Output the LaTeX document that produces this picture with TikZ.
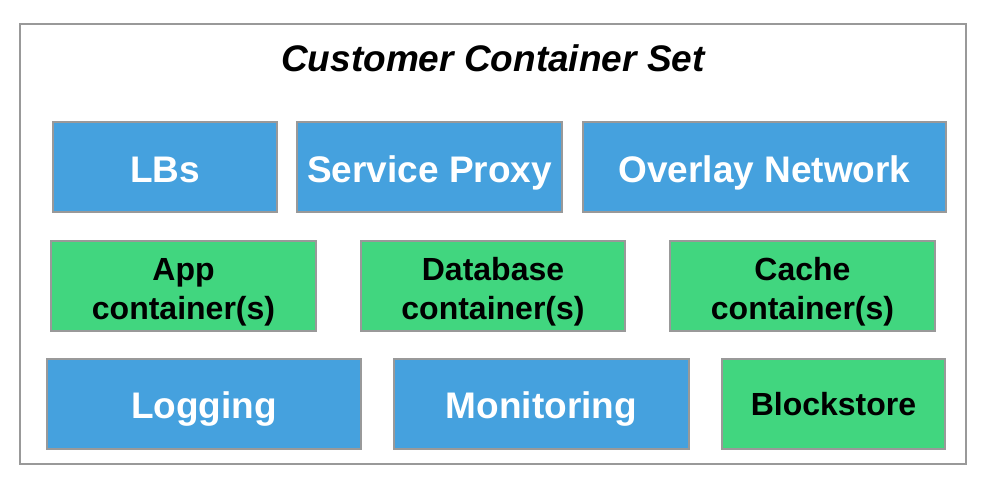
\documentclass[tikz,border=0pt]{standalone}
\usepackage{fontspec}
\setmainfont{Liberation Sans}
\definecolor{boxblue}{RGB}{69,161,222}
\definecolor{boxgreen}{RGB}{65,214,127}
\definecolor{framegray}{RGB}{153,153,153}
\tikzset{
	part/.style={draw=framegray, line width=2pt, inner sep=0pt, font=\bfseries},
	bluebox/.style={part, fill=boxblue, text=white, text height=30pt, text depth=0pt, font=\bfseries\fontsize{37}{40}\selectfont},
	greenbox/.style={part, fill=boxgreen, text=black, align=center, text height=23pt, text depth=0pt, font=\bfseries\fontsize{32}{39}\selectfont},
	twoline/.style={text height=67pt, text depth=0pt},
}
\begin{document}
\begin{tikzpicture}[x=1pt,y=-1pt]
		\def\rowh{90};
		\useasboundingbox (0,0) rectangle (996,496);
		\draw[framegray, line width=2pt] (20,24) rectangle (966,464);
		\node[font=\bfseries\itshape\fontsize{37}{40}\selectfont] (title) at (493,58) {Customer Container Set};
		
		% top row
		\node[bluebox, minimum width=224pt, minimum height=\rowh pt] (lbs) at (165,167) {LBs};
		\node[bluebox, minimum width=265pt, minimum height=\rowh pt] (proxy) at (429.5,167) {Service Proxy};
		\node[bluebox, minimum width=363pt, minimum height=\rowh pt] (overlay) at (764.5,167) {Overlay Network};
		
		% containers
		\node[greenbox, twoline, minimum width=265pt, minimum height=\rowh pt] (app) at (183.5,285.5) {App\\container(s)};
		\node[greenbox, twoline, minimum width=264pt, minimum height=\rowh pt] (db) at (493,285.5) {Database\\container(s)};
		\node[greenbox, twoline, minimum width=265pt, minimum height=\rowh pt] (cache) at (802.5,285.5) {Cache\\container(s)};
		
		% bottom row
		\node[bluebox, minimum width=314pt, minimum height=\rowh pt] (logging) at (204,403.5) {Logging};
		\node[bluebox, minimum width=295pt, minimum height=\rowh pt] (monitoring) at (541.5,403.5) {Monitoring};
		\node[greenbox, minimum width=223pt, minimum height=\rowh pt] (blockstore) at (833.5,403.5) {Blockstore};
		\end{tikzpicture}
\end{document}
